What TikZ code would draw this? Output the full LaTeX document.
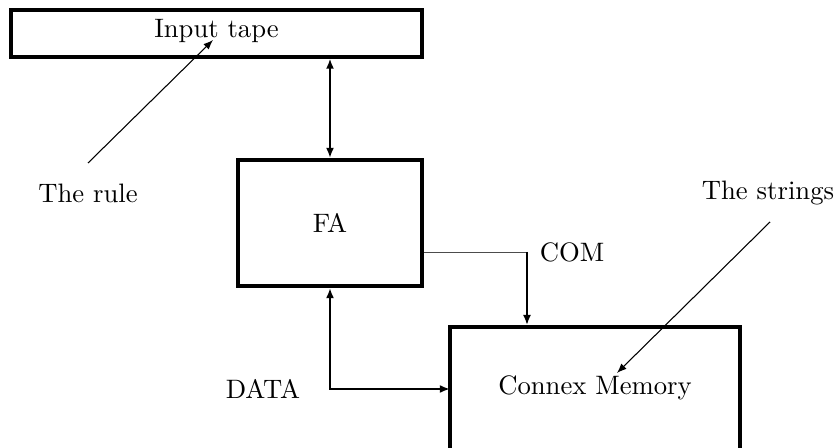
\documentclass[tikz,border=0pt]{standalone}
\usetikzlibrary{arrows.meta}
\begin{document}
\begin{tikzpicture}[x=0.375pt,y=-0.375pt,
  box/.style={draw,rectangle,inner sep=0pt},
  arr/.style={line width=0.8pt,-{Latex[length=3.8pt,width=3pt]}},
  darr/.style={line width=0.8pt,{Latex[length=3.8pt,width=3pt]}-{Latex[length=3.8pt,width=3pt]}},
  note/.style={line width=0.4pt,-{Latex[length=3.6pt,width=2.8pt]}},
  thinline/.style={line width=0.3pt,draw=black!70},
  lbl/.style={inner sep=0pt}]
\clip (0,0) rectangle (836,448);
\node[box,line width=1.2pt,minimum width=154.1pt,minimum height=17.6pt] (tape) at (216.5,33.5) {};
\node[lbl] (tapetext) at (216.5,31) {Input tape};
\node[box,line width=1.5pt,minimum width=69pt,minimum height=47.25pt] (fa) at (330,223) {FA};
\node[box,line width=1.4pt,minimum width=108.75pt,minimum height=60pt] (cm) at (595,407) {};
\node[lbl] (cmtext) at (595,388) {Connex Memory};
\node[lbl] (rule) at (88,193) {The rule};
\node[lbl] (strings) at (768,193) {The strings};
\node[lbl] (com) at (572,252) {COM};
\node[lbl] (data) at (263,389) {DATA};
\coordinate (rulestart) at (88,163);
\coordinate (ruleend) at (213,40);
\coordinate (strstart) at (770,222);
\coordinate (strend) at (617,373);
\coordinate (comturn) at (527,252);
\coordinate (dataend) at (450,389);
\draw[darr] (tape.south -| fa) -- (fa.north);
\draw[darr] (fa.south) |- (dataend);
\draw[thinline] (fa.east |- comturn) -- (comturn);
\draw[arr] (comturn) -- (comturn |- cm.north);
\draw[note] (rulestart) -- (ruleend);
\draw[note] (strstart) -- (strend);
\end{tikzpicture}
\end{document}
